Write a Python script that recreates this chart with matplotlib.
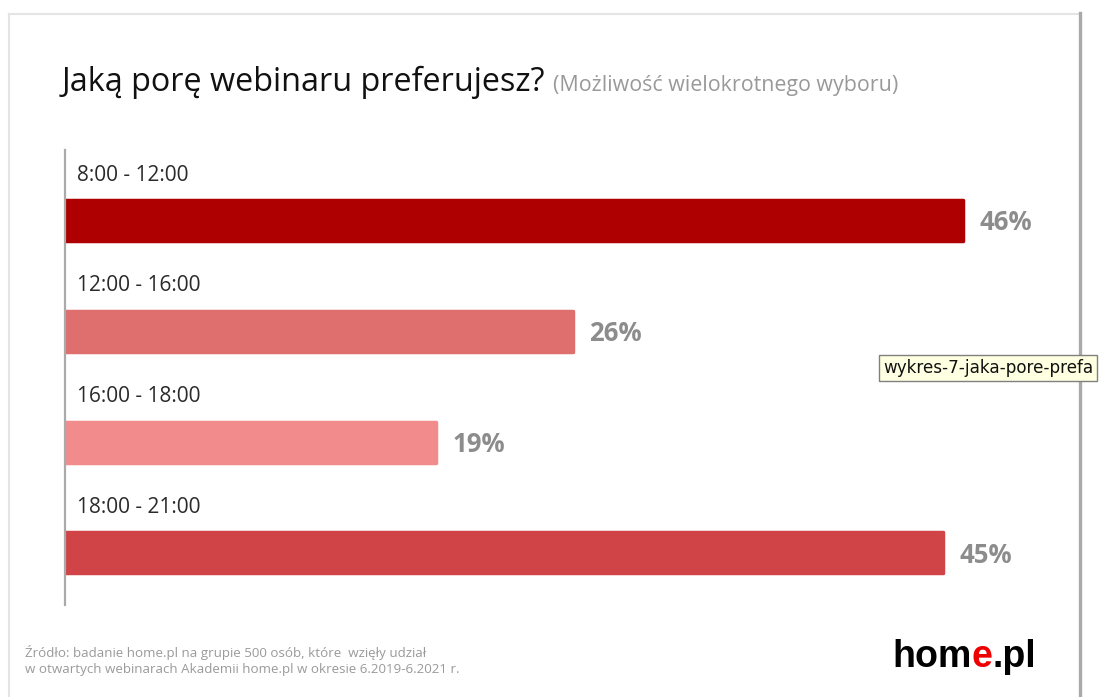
import matplotlib.pyplot as plt
from matplotlib.lines import Line2D

# survey answers
categories = ['8:00 - 12:00', '12:00 - 16:00', '16:00 - 18:00', '18:00 - 21:00']
shares = [46, 26, 19, 45]
bar_colors = ['#ae0000', '#df6e6e', '#f28c8c', '#d04448']

title = 'Jaką porę webinaru preferujesz?'
subtitle = '(Możliwość wielokrotnego wyboru)'
source = ('Źródło: badanie home.pl na grupie 500 osób, które  wzięły udział\n'
          'w otwartych webinarach Akademii home.pl w okresie 6.2019-6.2021 r.')

plt.rcParams['font.family'] = ['Open Sans', 'DejaVu Sans']

W, H = 1101, 697
fig = plt.figure(figsize=(W / 100, H / 100), dpi=100)
fig.patch.set_facecolor('white')

def fx(px):
    return px / W

def fy(py):
    return 1 - py / H

# page frame
fig.add_artist(Line2D([fx(9), fx(1080)], [fy(14), fy(14)], color='#e4e4e4', lw=1.5))
fig.add_artist(Line2D([fx(9), fx(9)], [fy(14), 0], color='#e4e4e4', lw=1.5))
fig.add_artist(Line2D([fx(1080), fx(1080)], [fy(13), 0], color='#a9a9a9', lw=2.4))

ax = fig.add_axes([fx(65), fy(605), fx(976), (605 - 150) / H])
ypos = list(range(len(categories)))
ax.barh(ypos, shares, height=0.37, color=bar_colors, edgecolor=bar_colors,
        linewidth=2.5, joinstyle='round', zorder=2)
ax.set_xlim(0, 50)
ax.set_ylim(3.47, -0.636)

for y, cat, v in zip(ypos, categories, shares):
    ax.text(0.6, y - 0.41, cat, fontsize=15, color='#2a2a2a', va='center', ha='left')
    ax.text(v + 0.85, y + 0.02, f'{v}%', fontsize=18.5, color='#8c8c8c',
            fontweight='bold', va='center', ha='left')

for s in ['top', 'right', 'bottom']:
    ax.spines[s].set_visible(False)
ax.spines['left'].set_color('#aaaaaa')
ax.spines['left'].set_linewidth(1.6)
ax.set_xticks([])
ax.set_yticks([])
ax.patch.set_alpha(0)

# headline
fig.text(fx(62), fy(91), title, fontsize=23.3, color='#111111', va='baseline', ha='left')
fig.text(fx(553), fy(91), subtitle, fontsize=15.4, color='#999999', va='baseline', ha='left')

fig.text(fx(25), fy(673), source, fontsize=9.6, color='#9a9a9a', va='baseline',
         ha='left', linespacing=1.3)

# logo
logo = dict(fontsize=27, fontweight='bold', family='Liberation Sans')
t1 = fig.text(fx(892), fy(667), 'hom', color='black', va='baseline', ha='left', **logo)
t2 = ax.annotate('e', xy=(1, 0), xycoords=t1, va='bottom', ha='left',
                 color='#ee0000', annotation_clip=False, **logo)
ax.annotate('.pl', xy=(1, 0), xycoords=t2, va='bottom', ha='left',
            color='black', annotation_clip=False, **logo)

# file-name tooltip
fig.text(fx(883), fy(373), 'wykres-7-jaka-pore-prefa', fontsize=12.1, color='#111111',
         family='DejaVu Sans', va='baseline', ha='left',
         bbox=dict(boxstyle='square,pad=0.25', facecolor='#ffffe1', edgecolor='#808080', lw=1))

fig.savefig('out.png', dpi=100, facecolor='white')
